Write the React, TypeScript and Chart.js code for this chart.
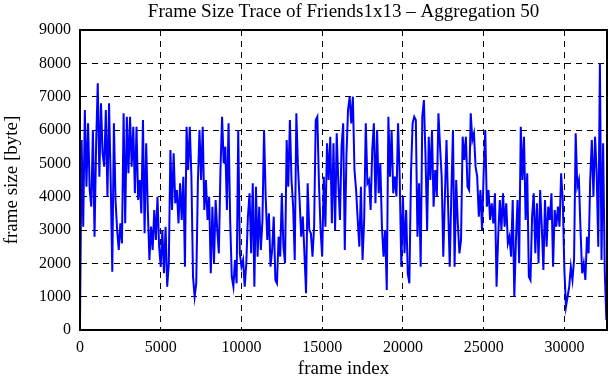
import React, { useEffect, useRef } from "react";
import { Chart, registerables } from "chart.js";

Chart.register(...registerables);

const TITLE = "Frame Size Trace of Friends1x13 – Aggregation 50";
const X_LABEL = "frame index";
const Y_LABEL = "frame size [byte]";
const X_MAX = 32640;
const Y_MAX = 9000;
const X_TICKS = [0, 5000, 10000, 15000, 20000, 25000, 30000];
const Y_TICK_STEP = 1000;
const FRAME_STEP = 100;

// frame size (bytes), one sample every FRAME_STEP frames
const SIZES = [
  200, 5700, 3100, 6600, 4300, 6200, 4200, 3700, 6000, 2800,
  5600, 7400, 4600, 6800, 5300, 4900, 6600, 4000, 6800, 4500,
  1750, 6200, 3900, 3000, 2400, 3200, 2600, 6500, 3200, 6400,
  4700, 6400, 4900, 6100, 4100, 6100, 3900, 4500, 3500, 6300,
  2900, 5600, 3600, 2100, 3100, 2400, 3600, 2700, 4000, 2500,
  1900, 3000, 1700, 3100, 1300, 2000, 5400, 3600, 5300, 3800,
  4200, 3200, 4400, 3300, 4600, 1900, 6100, 4800, 6100, 4600,
  1600, 1000, 1400, 4400, 6000, 4500, 6100, 3600, 4500, 3300,
  4000, 1700, 3700, 2000, 3900, 3000, 2300, 4800, 6400, 5000,
  5500, 3600, 6200, 3300, 1600, 1300, 2100, 1400, 6000, 2300,
  1900, 2100, 1300, 2000, 3400, 4100, 2300, 4400, 1300, 4300,
  2200, 3700, 2400, 3300, 6000, 4000, 2700, 3500, 1900, 2400,
  3400, 1500, 1400, 2800, 2200, 4100, 2500, 2000, 5700, 4300,
  6300, 4500, 3700, 2100, 6500, 4900, 3900, 2800, 3400, 2300,
  1100, 4400, 3000, 2900, 2200, 3100, 6300, 6400, 4400, 3000,
  2200, 4600, 3100, 5600, 4500, 5800, 3200, 5600, 3000, 5900,
  4400, 3300, 5500, 6200, 2400, 5200, 6600, 7000, 6200, 7000,
  4800, 4200, 3300, 2500, 4300, 2100, 3300, 6200, 4400,
  4500, 3600, 5400, 6200, 3800, 6000, 4100, 5000, 3100, 2200,
  3000, 1200, 6400, 4600, 6000, 4100, 4600, 4000, 6200, 4600,
  1900, 4000, 2300, 3600, 1700, 1400, 4700, 6200, 6400,
  6300, 2800, 4400, 1900, 6400, 6900, 5200, 3000, 5800, 4500,
  6000, 3700, 4800, 4000, 6500, 5500, 4600, 2200, 4000, 5700,
  3700, 1900, 4100, 6000, 1900, 4500, 3200, 2300, 2700, 5800,
  5100, 5800, 4300, 4200, 6500, 5700, 5900, 4900, 4600, 3400,
  4200, 3000, 4700, 6000, 3700, 4200, 3300, 3800, 3200, 4100,
  1300, 2800, 3900, 3000, 4100, 3100, 3800, 2600, 2800, 2200,
  3900, 1000, 2700, 3900, 2000, 6100, 4500, 5800, 3300, 4700,
  1600, 1500, 3400, 4100, 2300, 3800, 2000, 4200, 3100, 1800,
  3900, 2500, 3700, 3300, 4100, 1900, 3600, 3100, 3700, 3100,
  4700, 3900, 1800, 700, 1000, 1300, 1900, 1500, 2100, 5900,
  4300, 4500, 3000, 1700, 2000, 1500, 2800, 2300, 4500, 5700,
  4000, 5800, 4700, 2500, 8000, 2100, 5600, 1800, 300,
];

const FONT = "'Liberation Serif', 'DejaVu Serif', serif";

const frameBox = {
  id: "frameBox",
  afterDraw(chart: any) {
    const { ctx, chartArea } = chart;
    ctx.save();
    ctx.strokeStyle = "#000";
    ctx.lineWidth = 2;
    ctx.setLineDash([]);
    ctx.strokeRect(
      chartArea.left,
      chartArea.top,
      chartArea.right - chartArea.left,
      chartArea.bottom - chartArea.top
    );
    // title centred over the plot area
    ctx.fillStyle = "#000";
    ctx.font = `19px ${FONT}`;
    ctx.textAlign = "center";
    ctx.textBaseline = "middle";
    ctx.fillText(TITLE, (chartArea.left + chartArea.right) / 2, 12);
    ctx.restore();
  },
};

export default function App() {
  const ref = useRef<HTMLCanvasElement>(null);

  useEffect(() => {
    document.body.style.margin = "0";
    const canvas = ref.current;
    if (!canvas) return;
    const points = SIZES.map((v, i) => ({ x: i * FRAME_STEP, y: v }));
    const chart = new Chart(canvas, {
      type: "line",
      data: {
        datasets: [
          {
            data: points,
            borderColor: "#0000ff",
            borderWidth: 2,
            pointRadius: 0,
            tension: 0,
            fill: false,
          },
        ],
      },
      options: {
        animation: false,
        responsive: false,
        maintainAspectRatio: false,
        layout: { padding: { left: 0, right: 4, top: 30, bottom: 0 } },
        plugins: {
          legend: { display: false },
          tooltip: { enabled: false },
          title: { display: false },
        },
        scales: {
          x: {
            type: "linear",
            min: 0,
            max: X_MAX,
            afterBuildTicks: (s: any) => {
              s.ticks = X_TICKS.map((v) => ({ value: v }));
            },
            afterFit: (s: any) => {
              s.height = 50;
            },
            ticks: {
              color: "#000",
              padding: 8,
              maxRotation: 0,
              autoSkip: false,
              font: { family: FONT, size: 16 },
              callback: (v: any) => String(v),
            },
            grid: {
              color: "#000",
              lineWidth: 1,
              drawTicks: false,
            },
            border: { display: true, color: "#000", width: 2, dash: [6, 5] },
            title: {
              display: true,
              text: X_LABEL,
              color: "#000",
              font: { family: FONT, size: 19 },
              padding: { top: 0, bottom: 0 },
            },
          },
          y: {
            type: "linear",
            min: 0,
            max: Y_MAX,
            afterFit: (s: any) => {
              s.width = 80;
            },
            ticks: {
              stepSize: Y_TICK_STEP,
              color: "#000",
              padding: 9,
              font: { family: FONT, size: 16 },
              callback: (v: any) => String(v),
            },
            grid: {
              color: "#000",
              lineWidth: 1,
              drawTicks: false,
            },
            border: { display: true, color: "#000", width: 2, dash: [6, 5] },
            title: {
              display: true,
              text: Y_LABEL,
              color: "#000",
              font: { family: FONT, size: 19 },
              padding: { top: 1, bottom: 0 },
            },
          },
        },
      },
      plugins: [frameBox],
    });
    return () => chart.destroy();
  }, []);

  return (
    <div style={{ width: 611, height: 380 }}>
      <canvas ref={ref} width={611} height={380} style={{ display: "block" }} />
    </div>
  );
}
